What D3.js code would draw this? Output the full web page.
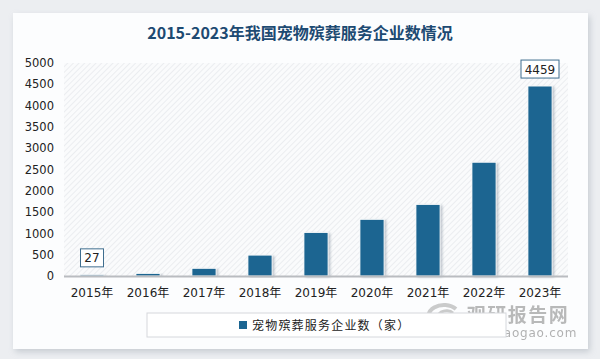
<!DOCTYPE html>
<html><head><meta charset="utf-8">
<script src="https://cdn.jsdelivr.net/npm/d3@7"></script>
<style>
html,body{margin:0;padding:0;background:#eceef1;}
svg{display:block;}
</style></head>
<body>
<script>
const categories = ["2015年","2016年","2017年","2018年","2019年","2020年","2021年","2022年","2023年"];
const values = [27, 60, 180, 490, 1020, 1330, 1680, 2670, 4459];
const yTicks = [0,500,1000,1500,2000,2500,3000,3500,4000,4500,5000];
const labeled = [0, 8];
const title = "2015-2023年我国宠物殡葬服务企业数情况";
const seriesName = "宠物殡葬服务企业数（家）";

const W = 600, H = 359;
const svg = d3.select("body").append("svg").attr("width", W).attr("height", H);
const defs = svg.append("defs");
const sh = defs.append("filter").attr("id","card").attr("x","-5%").attr("y","-5%").attr("width","110%").attr("height","115%");
sh.append("feDropShadow").attr("dx",2).attr("dy",3).attr("stdDeviation",3).attr("flood-color","#9aa3ad").attr("flood-opacity",0.45);
const bs = defs.append("filter").attr("id","bar").attr("x","-30%").attr("y","-5%").attr("width","160%").attr("height","110%");
bs.append("feDropShadow").attr("dx",2).attr("dy",1).attr("stdDeviation",1.2).attr("flood-color","#8a96a3").attr("flood-opacity",0.5);
const pat = defs.append("pattern").attr("id","hatch").attr("patternUnits","userSpaceOnUse")
  .attr("width",4).attr("height",4).attr("patternTransform","rotate(45)");
pat.append("rect").attr("width",4).attr("height",4).attr("fill","#fafbfc");
pat.append("line").attr("x1",0).attr("y1",0).attr("x2",0).attr("y2",4).attr("stroke","#e2e5e9").attr("stroke-width",1.2);

// card
svg.append("rect").attr("x",13).attr("y",13).attr("width",575).attr("height",336)
  .attr("fill","#fcfdfe").attr("filter","url(#card)");

svg.append("text").attr("x",300).attr("y",39).attr("text-anchor","middle")
  .attr("font-family","'Noto Sans CJK SC', sans-serif").attr("font-size",16).attr("font-weight",600)
  .attr("fill","#1d4a72").text(title);

const m = {l:64, r:568, t:63, b:276};
const x = d3.scaleBand().domain(categories).range([m.l, m.r]).paddingInner(0.57).paddingOuter(0.285);
const y = d3.scaleLinear().domain([0,5000]).range([m.b, m.t]);

svg.append("rect").attr("x",m.l).attr("y",m.t).attr("width",m.r-m.l).attr("height",m.b-m.t).attr("fill","url(#hatch)");

const yAxis = svg.append("g").attr("transform",`translate(${m.l},0)`)
  .call(d3.axisLeft(y).tickValues(yTicks).tickFormat(d3.format("d")).tickSize(0).tickPadding(10));
yAxis.select(".domain").remove();
yAxis.selectAll("text").attr("font-family","'DejaVu Sans', sans-serif").attr("font-size",11.5).attr("fill","#222");

svg.selectAll("rect.bar").data(values).join("rect").attr("class","bar")
  .attr("x",(d,i)=>x(categories[i])).attr("width",x.bandwidth())
  .attr("y",d=>y(d)).attr("height",d=>y(0)-y(d))
  .attr("fill","#1b6591").attr("stroke","#ffffff").attr("stroke-width",0.8).attr("filter","url(#bar)");

svg.append("line").attr("x1",m.l).attr("x2",m.r).attr("y1",m.b+0.5).attr("y2",m.b+0.5)
  .attr("stroke","#b9bcc0").attr("stroke-width",2);

const xAxis = svg.append("g").attr("transform",`translate(0,${m.b})`)
  .call(d3.axisBottom(x).tickSize(0).tickPadding(12));
xAxis.select(".domain").remove();
xAxis.selectAll("text").attr("font-family","'DejaVu Sans', 'Noto Sans CJK SC', sans-serif").attr("font-size",12).attr("fill","#222");

// data labels
labeled.forEach(i => {
  const cx = x(categories[i]) + x.bandwidth()/2;
  const txt = String(values[i]);
  const w = txt.length*7.5 + 8, h = 18;
  const by = y(values[i]) - 8 - h;
  svg.append("rect").attr("x",cx-w/2).attr("y",by).attr("width",w).attr("height",h)
    .attr("fill","#fff").attr("stroke","#3f6e8f").attr("stroke-width",1);
  svg.append("text").attr("x",cx).attr("y",by+h/2+4.5).attr("text-anchor","middle")
    .attr("font-family","'DejaVu Sans', sans-serif").attr("font-size",12).attr("fill","#222").text(txt);
});

// watermark
const wm = svg.append("g").attr("opacity",0.5);
wm.append("path").attr("d","M432,323 a14,10 0 1,1 24,-14").attr("fill","none").attr("stroke","#9a9a9a").attr("stroke-width",4);
wm.append("path").attr("d","M440,321 a8,6 0 1,1 13,-8").attr("fill","none").attr("stroke","#9a9a9a").attr("stroke-width",3);
wm.append("text").attr("x",518).attr("y",322).attr("text-anchor","middle")
  .attr("font-family","'Noto Sans CJK SC', sans-serif").attr("font-weight","bold").attr("font-size",19).attr("letter-spacing",1.5).attr("fill","#777").text("观研报告网");
wm.append("text").attr("x",518).attr("y",337).attr("text-anchor","middle")
  .attr("font-family","'DejaVu Sans', sans-serif").attr("font-size",12).attr("letter-spacing",0.8).attr("fill","#666").text("chinabaogao.com");

// legend
svg.append("rect").attr("x",147).attr("y",313).attr("width",359).attr("height",24)
  .attr("fill","#fff").attr("stroke","#d5d8dc").attr("stroke-width",1);
svg.append("rect").attr("x",239).attr("y",321).attr("width",8).attr("height",8).attr("fill","#1b6591");
svg.append("text").attr("x",252).attr("y",330).attr("font-family","'Noto Sans CJK SC', sans-serif")
  .attr("font-size",12).attr("letter-spacing",1.2).attr("fill","#222").text(seriesName);
</script>
</body></html>
